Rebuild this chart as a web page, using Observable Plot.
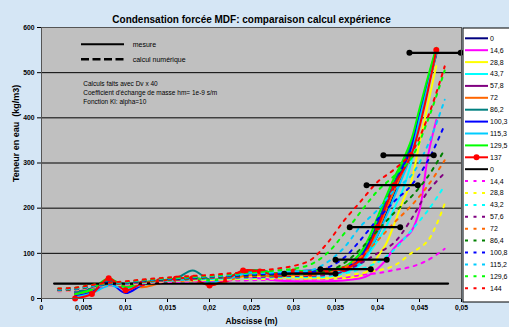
<!DOCTYPE html>
<html><head><meta charset="utf-8">
<script src="https://cdn.jsdelivr.net/npm/d3@7"></script>
<script src="https://cdn.jsdelivr.net/npm/@observablehq/plot@0.6"></script>
<style>
html,body{margin:0;padding:0;background:#d5e6f5;}
#chart svg{display:block}
</style></head><body><div id="chart"></div>
<script>
// ---------- data ----------
const title = "Condensation forcée MDF: comparaison calcul expérience";
const xLabel = "Abscisse (m)";
const yLabel = "Teneur en eau  (kg/m3)";
const xTicks = [0,0.005,0.01,0.015,0.02,0.025,0.03,0.035,0.04,0.045,0.05];
const yTicks = [0,100,200,300,400,500,600];
const gridY = [100,200,300,400,500];

// measured profiles (solid lines)
const xMeas = [0.004,0.006,0.008,0.010,0.012,0.014,0.016,0.018,0.020,0.022,0.024,0.026,0.028,0.030,0.032,0.034,0.036,0.037,0.038,0.039,0.040,0.041,0.042,0.043,0.044,0.045,0.046,0.047];
const m0     = [12,22,35,28,33,38,40,45,38,44,55,58,52,55,56,58, 60,68,80,105,140,185,230,275,330,400,470,540];
const m14_6  = [15,20,35,30,32,35,38,42,36,40,48,45,40,38,38,38, 40,42,45,52,66,85,112,130,148,195,315,395];
const m28_8  = [8,18,32,25,30,35,38,40,36,40,48,50,48,48,46,45, 45,47,50,65,92,120,165,215,258,345,430,515];
const m43_7  = [5,15,30,25,32,36,40,44,38,42,52,55,50,52,52,55, 58,64,75,100,128,158,200,240,300,385,465,545];
const m57_8  = [10,20,38,28,34,40,42,46,40,44,56,58,54,58,58,60, 64,72,88,118,158,200,245,285,330,405,480,550];
const m72    = [8,18,30,30,25,33,38,40,30,38,50,52,48,52,54,58, 62,70,85,112,150,195,240,280,325,400,475,548];
const m86_2  = [15,22,40,32,36,40,44,62,42,46,58,62,56,60,58,60, 66,76,95,125,168,215,258,298,340,412,485,552];
const m100_3 = [5,14,35,12,30,38,42,44,38,44,60,62,55,60,62,64, 68,76,92,122,162,208,250,290,332,405,478,550];
const m115_3 = [3,12,28,22,30,36,40,42,36,42,55,58,52,55,56,58, 60,66,80,106,140,180,225,270,318,395,470,548];
const m129_5 = [10,20,45,25,35,40,44,46,40,46,60,62,56,62,60,64, 70,82,102,135,180,225,268,305,350,420,490,555];

// measured 137 (red with markers)
const xRed = [0.004,0.006,0.008,0.010,0.012,0.014,0.016,0.018,0.020,0.022,0.024,0.026,0.028,0.030,0.032,0.034,0.036,0.038,0.040,0.042,0.044,0.047];
const m137 = [0,10,45,18,33,38,44,45,29,42,62,60,51,60,55,62,65,86,158,251,317,550];

// black "0" series
const xBlack = [0.0015,0.0484];
const mBlack = [33,33];

// horizontal error bars
const barY  = [55,65,86,158,251,317,544];
const barX1 = [0.0289,0.0332,0.0350,0.0367,0.0387,0.0407,0.0438];
const barX2 = [0.0350,0.0392,0.0411,0.0427,0.0448,0.0467,0.0499];

// numerical profiles (dashed)
const xCalc = [0.002,0.004,0.006,0.008,0.010,0.012,0.014,0.016,0.018,0.020,0.022,0.024,0.026,0.028,0.030,0.032,0.034,0.036,0.038,0.040,0.042,0.044,0.046,0.048];
const c14_4  = [16,18,24,28,30,33,36,37,38,39,40,40,41,41,42, 42,43,46,52,56,63,70,85,110];
const c28_8  = [17,19,25,29,31,34,37,39,40,41,42,43,43,44,44, 44,45,50,56,62,73,100,128,210];
const c43_2  = [18,20,26,30,32,35,38,40,42,43,44,45,46,47,47, 47,48,55,65,80,108,150,195,250];
const c57_6  = [18,20,26,31,33,36,39,41,43,45,46,47,48,49,50, 50,52,60,78,100,124,175,237,278];
const c72    = [19,21,27,31,34,37,40,42,44,46,48,49,50,51,52, 52,56,68,92,128,168,205,250,306];
const c86_4  = [19,21,27,32,35,38,41,43,45,47,49,50,52,53,54, 55,60,78,110,150,190,225,270,330];
const c100_8 = [20,22,28,32,35,39,42,44,46,48,50,52,54,55,56, 58,68,90,130,175,215,250,305,385];
const c115_2 = [20,22,28,33,36,40,43,45,47,49,51,54,56,58,60, 62,80,112,160,196,240,272,340,440];
const c129_6 = [22,24,30,34,37,41,44,46,48,50,53,56,59,62,66, 75,100,143,192,238,272,310,395,505];
const c144   = [22,24,30,35,38,42,45,48,50,52,55,58,62,66,72, 85,122,172,215,258,286,322,402,514];

const solidLabels  = ["0","14,6","28,8","43,7","57,8","72","86,2","100,3","115,3","129,5","137","0"];
const dashedLabels = ["14,4","28,8","43,2","57,6","72","86,4","100,8","115,2","129,6","144"];

const keyLabels = ["mesure","calcul numérique"];
const notes = ["Calculs faits avec Dv x 40","Coefficient d'échange de masse hm= 1e-9 s/m","Fonction Kl: alpha=10"];

// ---------- styles ----------
const solidColors  = ["#000080","#ff00ff","#ffff00","#00ffff","#800080","#ff6600","#008080","#0000ff","#00ccff","#00ff00","#ff0000","#000000"];
const dashedColors = ["#ff00ff","#ffff00","#00ffff","#800080","#ff6600","#008000","#0000ff","#00ccff","#00ff00","#ff0000"];
const FONT = "Liberation Sans, Arial, Helvetica, sans-serif";
const DASH = "3,5.5";

// ---------- build ----------
const measured = [m0,m14_6,m28_8,m43_7,m57_8,m72,m86_2,m100_3,m115_3,m129_5];
const calc = [c14_4,c28_8,c43_2,c57_6,c72,c86_4,c100_8,c115_2,c129_6,c144];
const pts = (xs, ys) => xs.map((x, j) => ({x, y: ys[j]}));

const marks = [
  Plot.frame({fill: "#c0c0c0"}),
  Plot.ruleY(gridY, {stroke: "#000", strokeWidth: 1})
];
measured.forEach((ys, i) => marks.push(
  Plot.line(pts(xMeas, ys), {x: "x", y: "y", stroke: solidColors[i], strokeWidth: 2, curve: "catmull-rom"})
));
marks.push(Plot.line(pts(xRed, m137), {x: "x", y: "y", stroke: solidColors[10], strokeWidth: 2, curve: "catmull-rom"}));
marks.push(Plot.dot(pts(xRed, m137), {x: "x", y: "y", r: 3, fill: solidColors[10], stroke: "none"}));
marks.push(Plot.line(pts(xBlack, mBlack), {x: "x", y: "y", stroke: "#000", strokeWidth: 2.2}));
calc.forEach((ys, i) => marks.push(
  Plot.line(pts(xCalc, ys), {x: "x", y: "y", stroke: dashedColors[i], strokeWidth: 2, strokeDasharray: DASH, curve: "catmull-rom"})
));
const bars = barY.map((y, i) => ({y, x1: barX1[i], x2: barX2[i]}));
marks.push(Plot.link(bars, {x1: "x1", x2: "x2", y1: "y", y2: "y", stroke: "#000", strokeWidth: 2.2}));
marks.push(Plot.dot(bars, {x: "x1", y: "y", r: 3, fill: "#000", stroke: "none"}));
marks.push(Plot.dot(bars, {x: "x2", y: "y", r: 3, fill: "#000", stroke: "none"}));
marks.push(Plot.frame({stroke: "#555", strokeWidth: 1}));
marks.push(Plot.text([title], {frameAnchor: "top", dy: -12, text: d => d, fontSize: 10, fontWeight: "bold", fontFamily: FONT, fill: "#000"}));
marks.push(Plot.text([xLabel], {frameAnchor: "bottom", dy: 25, text: d => d, fontSize: 8.4, fontWeight: "bold", fontFamily: FONT, fill: "#000"}));
marks.push(Plot.text([yLabel], {frameAnchor: "left", dx: -25, dy: 19, rotate: -90, text: d => d, fontSize: 9, fontWeight: "bold", fontFamily: FONT, fill: "#000"}));

const fmtX = d => String(+d.toFixed(3)).replace(".", ",");

const svg = Plot.plot({
  width: 509, height: 327,
  marginLeft: 41, marginRight: 48, marginTop: 27, marginBottom: 29,
  style: {background: "transparent", fontFamily: FONT, fontSize: "6.8px", fontWeight: "bold", color: "#000"},
  x: {domain: [0, 0.05], ticks: xTicks, tickFormat: fmtX, tickSize: 4, tickPadding: 3, label: null},
  y: {domain: [0, 600], ticks: yTicks, tickSize: 4, tickPadding: 3, label: null},
  marks
});
document.getElementById("chart").appendChild(svg);

// ---------- legend & annotations ----------
const s = d3.select(svg);
const lg = s.append("g").attr("font-family", FONT).attr("font-size", 7).attr("font-weight", "normal").attr("text-anchor", "start");
lg.append("rect").attr("x", 463).attr("y", 28).attr("width", 60).attr("height", 274).attr("fill", "#fff").attr("stroke", "#000").attr("stroke-width", 1);
const entries = solidLabels.map((t, i) => ({t, c: solidColors[i], dash: false, marker: i === 10}))
  .concat(dashedLabels.map((t, i) => ({t, c: dashedColors[i], dash: true, marker: false})));
entries.forEach((e, i) => {
  const y = 38.3 + i * 11.9;
  const ln = lg.append("line").attr("x1", 465).attr("x2", 488).attr("y1", y).attr("y2", y)
    .attr("stroke", e.c).attr("stroke-width", 2);
  if (e.dash) ln.attr("stroke-dasharray", DASH);
  if (e.marker) lg.append("circle").attr("cx", 476.5).attr("cy", y).attr("r", 3).attr("fill", e.c);
  lg.append("text").attr("x", 490).attr("y", y).attr("dy", "0.35em").attr("fill", "#000").attr("text-anchor", "start").text(e.t);
});

const an = s.append("g").attr("font-family", FONT).attr("font-weight", "normal").attr("fill", "#000").attr("text-anchor", "start");
an.append("line").attr("x1", 81).attr("x2", 124).attr("y1", 44.3).attr("y2", 44.3).attr("stroke", "#000").attr("stroke-width", 2);
an.append("line").attr("x1", 81).attr("x2", 124).attr("y1", 59.3).attr("y2", 59.3).attr("stroke", "#000").attr("stroke-width", 2.5).attr("stroke-dasharray", "8,3.5");
keyLabels.forEach((t, i) => an.append("text").attr("x", 132.7).attr("y", 44.3 + i * 15).attr("dy", "0.35em").attr("font-size", 7).attr("text-anchor", "start").text(t));
notes.forEach((t, i) => an.append("text").attr("x", 83.3).attr("y", 83.7 + i * 9).attr("dy", "0.35em").attr("font-size", 6.5).attr("text-anchor", "start").text(t));
</script>
</body></html>
